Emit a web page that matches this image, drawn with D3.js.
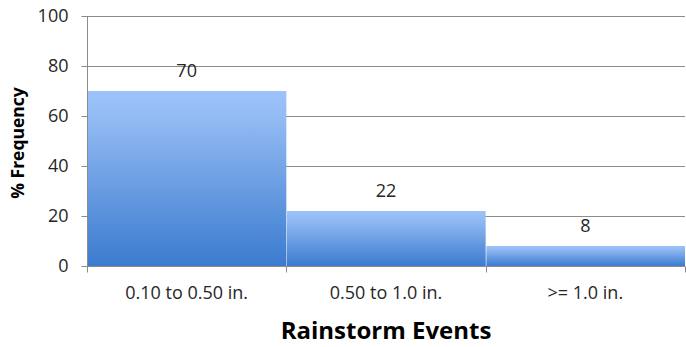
<!DOCTYPE html>
<html>
<head>
<meta charset="utf-8">
<script src="https://cdn.jsdelivr.net/npm/d3@7/dist/d3.min.js"></script>
<style>
  html, body { margin: 0; padding: 0; background: #fff; }
  svg { display: block; font-family: "Open Sans", "Liberation Sans", sans-serif; }
</style>
</head>
<body>
<svg id="chart" width="686" height="347"></svg>
<script>
// Rainfall event size classes and their share of all events
const categories = ["0.10 to 0.50 in.", "0.50 to 1.0 in.", ">= 1.0 in."];
const frequency = [70, 22, 8];
const yTicks = [0, 20, 40, 60, 80, 100];

const width = 686, height = 347;
const margin = { top: 16, right: 1, bottom: 81, left: 87 };

const svg = d3.select("#chart");

const x = d3.scaleBand()
  .domain(categories)
  .range([margin.left, width - margin.right])
  .padding(0);

const y = d3.scaleLinear()
  .domain([0, 100])
  .range([height - margin.bottom, margin.top]);

// Vertical gradient from light sky blue at the top to deeper blue at the base
const defs = svg.append("defs");
const grad = defs.append("linearGradient")
  .attr("id", "barFill")
  .attr("x1", 0).attr("y1", 0).attr("x2", 0).attr("y2", 1);
grad.append("stop").attr("offset", "0%").attr("stop-color", "#9dc3fa");
grad.append("stop").attr("offset", "15%").attr("stop-color", "#93bbf3");
grad.append("stop").attr("offset", "100%").attr("stop-color", "#3b7bcf");

// Horizontal gridlines
svg.append("g")
  .selectAll("line")
  .data(yTicks.filter(d => d > 0))
  .join("line")
  .attr("x1", margin.left)
  .attr("x2", width - margin.right)
  .attr("y1", d => Math.round(y(d)) + 0.5)
  .attr("y2", d => Math.round(y(d)) + 0.5)
  .attr("stroke", "#8c8c8c")
  .attr("stroke-width", 1);

// Bars
svg.append("g")
  .selectAll("rect")
  .data(frequency)
  .join("rect")
  .attr("x", (d, i) => x(categories[i]))
  .attr("y", d => y(d))
  .attr("width", x.bandwidth())
  .attr("height", d => y(0) - y(d))
  .attr("fill", "url(#barFill)");

// Thin light separators between adjacent bars
svg.append("g")
  .selectAll("line")
  .data(frequency.slice(1))
  .join("line")
  .attr("x1", (d, i) => Math.round(x(categories[i + 1])) + 0.5)
  .attr("x2", (d, i) => Math.round(x(categories[i + 1])) + 0.5)
  .attr("y1", d => y(d))
  .attr("y2", y(0))
  .attr("stroke", "#ffffff")
  .attr("stroke-opacity", 0.35);

// Value labels above each bar
svg.append("g")
  .selectAll("text")
  .data(frequency)
  .join("text")
  .attr("x", (d, i) => x(categories[i]) + x.bandwidth() / 2)
  .attr("y", d => y(d) - 14)
  .attr("text-anchor", "middle")
  .attr("font-size", 18)
  .attr("fill", "#262626")
  .text(d => d);

// Y axis
const yAxis = svg.append("g")
  .attr("transform", `translate(${margin.left + 0.5},0)`)
  .call(d3.axisLeft(y).tickValues(yTicks).tickSize(6).tickPadding(13).tickFormat(d3.format("d")));
yAxis.select(".domain").attr("stroke", "#8c8c8c").attr("d", `M0,${y(0)}V${y(100)}`);
yAxis.selectAll(".tick line").attr("stroke", "#8c8c8c");
yAxis.selectAll(".tick text")
  .attr("font-size", 18)
  .attr("font-family", "'Open Sans', 'Liberation Sans', sans-serif")
  .attr("fill", "#262626");

// X axis
const xAxis = svg.append("g")
  .attr("transform", `translate(0,${Math.round(y(0)) + 0.5})`)
  .call(d3.axisBottom(x).tickSize(0).tickPadding(20));
xAxis.select(".domain").attr("stroke", "#8c8c8c").attr("d", `M${margin.left},0H${width - margin.right}`);
xAxis.selectAll(".tick text")
  .attr("font-size", 18)
  .attr("font-family", "'Open Sans', 'Liberation Sans', sans-serif")
  .attr("fill", "#262626");

// Category boundary ticks below the x axis
const edges = categories.map(c => x(c)).concat([x(categories[categories.length - 1]) + x.bandwidth()]);
xAxis.append("g")
  .selectAll("line")
  .data(edges)
  .join("line")
  .attr("x1", d => Math.round(d) + 0.5)
  .attr("x2", d => Math.round(d) + 0.5)
  .attr("y1", 0)
  .attr("y2", 6)
  .attr("stroke", "#8c8c8c");

// Axis titles
svg.append("text")
  .attr("x", (margin.left + width - margin.right) / 2)
  .attr("y", 339)
  .attr("text-anchor", "middle")
  .attr("font-size", 24)
  .attr("font-weight", "bold")
  .attr("fill", "#000")
  .text("Rainstorm Events");

svg.append("text")
  .attr("transform", `translate(24,${(y(0) + y(100)) / 2 + 2}) rotate(-90)`)
  .attr("text-anchor", "middle")
  .attr("font-size", 17.5)
  .attr("font-weight", "bold")
  .attr("fill", "#000")
  .text("% Frequency");
</script>
</body>
</html>
